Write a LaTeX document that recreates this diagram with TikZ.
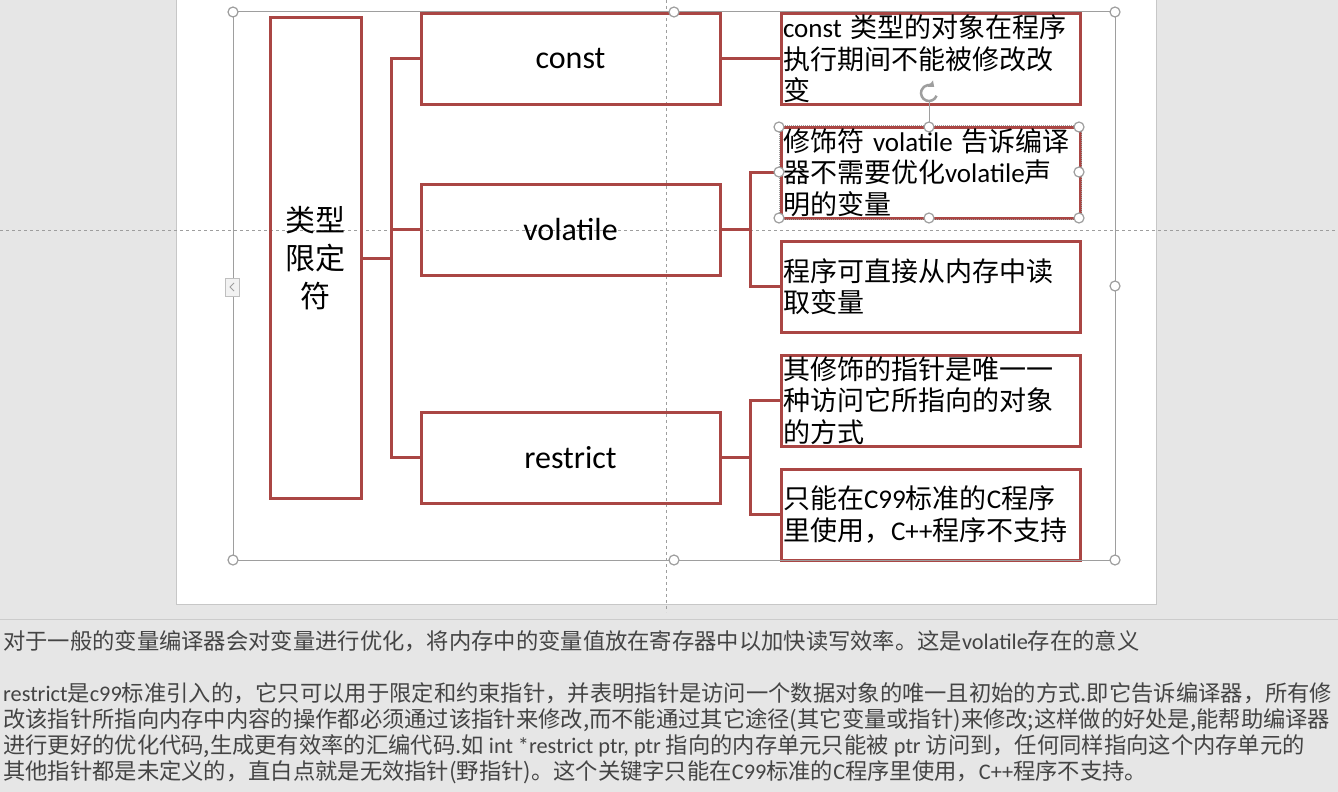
\documentclass[tikz,border=0pt]{standalone}
\usepackage{fontspec}
\setmainfont{Noto Sans CJK SC}
\newfontfamily\latinfont{Carlito}
\newcommand\ltn[1]{{\latinfont #1}}
\usetikzlibrary{arrows.meta}
\definecolor{boxred}{RGB}{170,70,68}
\definecolor{deskgray}{RGB}{230,230,230}
\definecolor{framegray}{RGB}{158,158,158}
\definecolor{notegray}{RGB}{68,68,68}

\begin{document}
\begin{tikzpicture}[%
    x=1pt, y=-1pt,
    rootbox/.style={
      rectangle,
      draw=boxred,
      line width=3pt,
      minimum width=91pt,
      minimum height=480pt,
      align=center,
      font=\fontsize{30}{38}\selectfont
    },
    typebox/.style={
      rectangle,
      draw=boxred,
      line width=3pt,
      minimum width=299pt,
      minimum height=91pt,
      font=\latinfont\fontsize{32}{38}\selectfont
    },
    notebox/.style={
      rectangle,
      draw=boxred,
      line width=3pt,
      minimum width=299pt,
      minimum height=91pt,
      text width=295pt,
      inner xsep=2pt,
      inner ysep=0pt,
      align=left,
      font=\fontsize{27}{31.5}\selectfont
    },
    link/.style={
      draw=boxred,
      line width=3pt
    },
    guide/.style={
      draw=framegray,
      line width=1pt,
      dash pattern=on 3pt off 3pt
    },
    grip/.style={
      draw=framegray,
      fill=white,
      line width=1.2pt
    },
    memo/.style={
      anchor=base west,
      inner sep=0pt,
      text=notegray,
      font=\fontsize{22.3}{26}\selectfont
    }
  ]
    \useasboundingbox (0,0) rectangle (1338,792);
    \fill[deskgray] (0,0) rectangle (1338,792);

    % slide and notes pane
    \fill[white] (176,-2) rectangle (1156,604);
    \draw[black!22, line width=1pt] (176,-2) rectangle (1156,604);
    \draw[black!20, line width=1pt] (0,619) -- (1338,619);
    \draw[guide] (666,0) -- (666,612);
    \draw[guide] (0,230) -- (1338,230);

    % boxes
    \node[rootbox] (root) at (315.5,258) {类型\\限定\\符};
    \node[typebox] (const) at (570.5,59) {const};
    \node[typebox] (volatile) at (570.5,229.5) {volatile};
    \node[typebox] (restrict) at (570.5,457.5) {restrict};

    \node[notebox, minimum height=90pt] (cnote) at (930.5,59)
      {\ltn{const} 类型的对象在程序\\执行期间不能被修改改\\变};
    \node[notebox] (vnote1) at (930.5,172.5)
      {修饰符 \ltn{volatile} 告诉编译\\器不需要优化\ltn{volatile}声\\明的变量};
    \node[notebox] (vnote2) at (930.5,286.5)
      {程序可直接从内存中读\\取变量};
    \node[notebox] (rnote1) at (930.5,400.5)
      {其修饰的指针是唯一一\\种访问它所指向的对象\\的方式};
    \node[notebox] (rnote2) at (930.5,514.5)
      {只能在\ltn{C99}标准的\ltn{C}程序\\里使用，\ltn{C++}程序不支持};

    % connectors
    \coordinate (bus) at (391,258);
    \coordinate (vbus) at (750,229.5);
    \coordinate (rbus) at (750,457.5);
    \draw[link] (root.east) -- (bus);
    \foreach \n in {const,volatile,restrict}
      \draw[link] (bus) |- (\n.west);
    \draw[link] (const.east) -- (cnote.west);
    \draw[link] (volatile.east) -- (vbus);
    \foreach \n in {vnote1,vnote2}
      \draw[link] (vbus) |- (\n.west);
    \draw[link] (restrict.east) -- (rbus);
    \foreach \n in {rnote1,rnote2}
      \draw[link] (rbus) |- (\n.west);

    % selection frame and handles
    \draw[framegray, line width=1pt] (233,12) rectangle (1115,560);
    \foreach \p in {(233,12),(674,12),(1115,12),(1115,286),(233,560),(674,560),(1115,560)}
      \draw[grip] \p circle (5);
    \draw[black!25, fill=black!5] (225,278) rectangle (239,296);
    \draw[framegray, line width=1pt] (234,283) -- (230,287) -- (234,291);
    \draw[framegray, line width=0.8pt, dash pattern=on 1pt off 1pt] (vnote1.north west) rectangle (vnote1.south east);
    \draw[framegray, line width=1pt] (929,101) -- (929,127);
    \draw[framegray, line width=2.5pt, -{Triangle[length=5pt,width=8pt]}] (929,93) ++(20:8) arc (20:310:8);
    \foreach \p in {(779,127),(929,127),(1079,127),(779,172),(1079,172),(779,218),(929,218),(1079,218)}
      \draw[grip] \p circle (5);

    % notes text
    \node[memo] (memo1) at (3,649) {对于一般的变量编译器会对变量进行优化，将内存中的变量值放在寄存器中以加快读写效率。这是\ltn{volatile}存在的意义};
    \node[memo] (memo2) at (3,701) {\ltn{restrict}是\ltn{c99}标准引入的，它只可以用于限定和约束指针，并表明指针是访问一个数据对象的唯一且初始的方式.即它告诉编译器，所有修};
    \node[memo] (memo3) at (3,727) {改该指针所指向内存中内容的操作都必须通过该指针来修改,而不能通过其它途径(其它变量或指针)来修改;这样做的好处是,能帮助编译器};
    \node[memo] (memo4) at (3,753) {进行更好的优化代码,生成更有效率的汇编代码.如 \ltn{int *restrict ptr, ptr} 指向的内存单元只能被 \ltn{ptr} 访问到，任何同样指向这个内存单元的};
    \node[memo] (memo5) at (3,779) {其他指针都是未定义的，直白点就是无效指针(野指针)。这个关键字只能在\ltn{C99}标准的\ltn{C}程序里使用，\ltn{C++}程序不支持。};
  \end{tikzpicture}
\end{document}
